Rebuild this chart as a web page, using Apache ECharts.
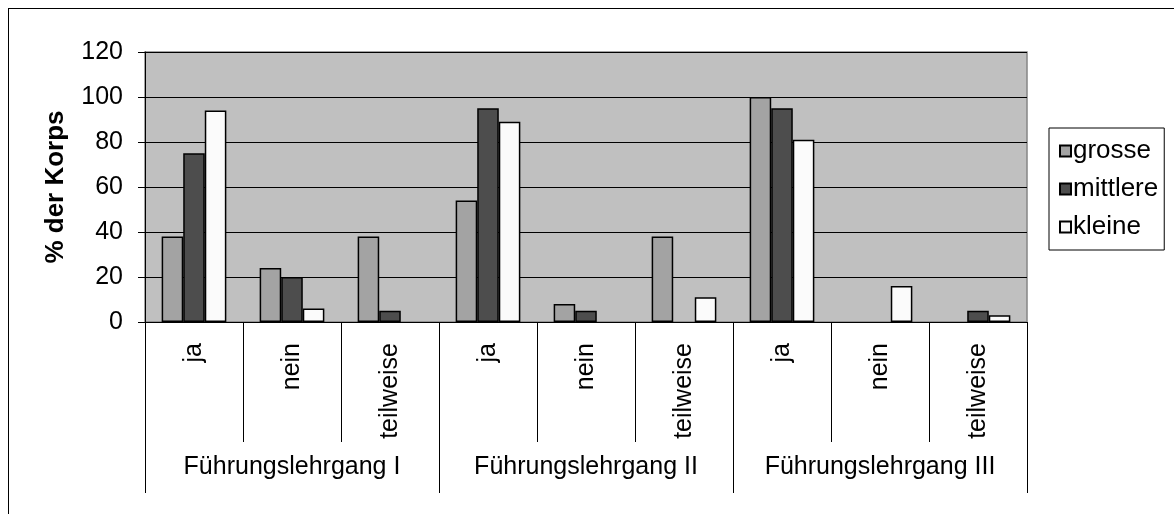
<!DOCTYPE html>
<html>
<head>
<meta charset="utf-8">
<script src="https://cdn.jsdelivr.net/npm/echarts@6/dist/echarts.min.js"></script>
<style>
  html, body { margin: 0; padding: 0; background: #ffffff; }
  #frame { position: absolute; left: 8px; top: 8px; width: 1300px; height: 600px;
           border-left: 1px solid #000; border-top: 1px solid #000; }
  #chart { position: absolute; left: 0; top: 0; width: 1174px; height: 514px; }
</style>
</head>
<body>
<div id="frame"></div>
<div id="chart"></div>
<script>
// Answer categories inside each course
const answers = ['ja', 'nein', 'teilweise', 'ja', 'nein', 'teilweise', 'ja', 'nein', 'teilweise'];
// Course groups spanning three answers each
const courses = ['Führungslehrgang I', 'Führungslehrgang II', 'Führungslehrgang III'];
// Share of corps (%) by corps size
const grosse   = [38, 24, 38, 54, 8, 38, 100, 0, 0];
const mittlere = [75, 20, 5, 95, 5, 0, 95, 0, 5];
const kleine   = [94, 6, 0, 89, 0, 11, 81, 16, 3];
const yTicks = { min: 0, max: 120, interval: 20 };

const FONT = 'Liberation Sans, Arial, sans-serif';

// zero-height bars get no outline so they stay invisible
function toItems(values) {
  return values.map(v => v === 0 ? { value: v, itemStyle: { borderWidth: 0, opacity: 0 } } : v);
}

function barSeries(name, data, color) {
  return {
    name: name,
    type: 'bar',
    xAxisIndex: 0,
    data: toItems(data),
    barGap: '0%',
    barCategoryGap: '34%',
    itemStyle: { color: color, borderColor: '#000', borderWidth: 1.5 }
  };
}

const chart = echarts.init(document.getElementById('chart'), null, { renderer: 'canvas' });
chart.setOption({
  backgroundColor: 'transparent',
  animation: false,
  textStyle: { fontFamily: FONT, color: '#000' },
  grid: {
    left: 145, top: 52, width: 882, height: 270,
    show: true, backgroundColor: '#C0C0C0', borderColor: '#858585', borderWidth: 1.5
  },
  legend: {
    orient: 'vertical',
    left: 1049, top: 128,
    padding: [8, 6, 8, 10],
    borderColor: '#000', borderWidth: 1,
    backgroundColor: '#fff',
    icon: 'rect', itemWidth: 11, itemHeight: 11, itemGap: 8,
    textStyle: { fontFamily: FONT, fontSize: 26, lineHeight: 30, color: '#000', padding: [0, 0, 0, -3] },
    data: ['grosse', 'mittlere', 'kleine']
  },
  xAxis: [
    {
      type: 'category',
      data: answers,
      position: 'bottom',
      axisLine: { lineStyle: { color: '#000', width: 1 } },
      axisTick: { show: true, interval: 0, length: 120, lineStyle: { color: '#000', width: 1 } },
      axisLabel: { interval: 0, rotate: 90, margin: 21, fontSize: 25, color: '#000', fontFamily: FONT },
      splitLine: { show: false }
    },
    {
      type: 'category',
      data: courses,
      position: 'bottom',
      axisLine: { show: false },
      axisTick: { show: true, interval: 0, length: 171, lineStyle: { color: '#000', width: 1 } },
      axisLabel: { interval: 0, margin: 133, fontSize: 25, color: '#000', fontFamily: FONT },
      splitLine: { show: false }
    }
  ],
  yAxis: {
    type: 'value',
    min: yTicks.min, max: yTicks.max, interval: yTicks.interval,
    name: '% der Korps',
    nameLocation: 'middle',
    nameRotate: 90,
    nameGap: 76,
    nameTextStyle: { fontFamily: FONT, fontSize: 26, fontWeight: 'bold', color: '#000' },
    axisLine: { show: true, lineStyle: { color: '#000', width: 1 } },
    axisTick: { show: true, length: 7, lineStyle: { color: '#000' } },
    axisLabel: { margin: 22, fontSize: 25, color: '#000', fontFamily: FONT },
    splitLine: { show: true, lineStyle: { color: '#000', width: 1 } }
  },
  series: [
    barSeries('grosse', grosse, '#A3A3A3'),
    barSeries('mittlere', mittlere, '#4D4D4D'),
    barSeries('kleine', kleine, '#FBFBFB')
  ]
});
</script>
</body>
</html>
